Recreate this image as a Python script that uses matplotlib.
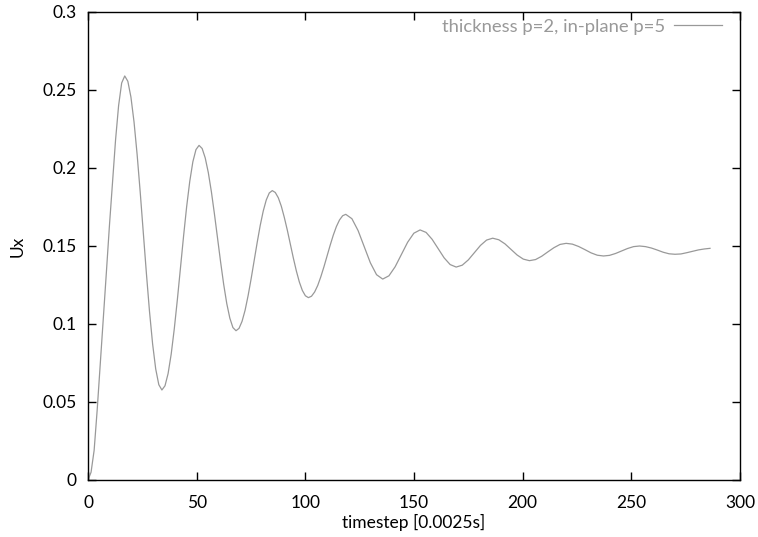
import matplotlib
matplotlib.use("Agg")
import matplotlib.pyplot as plt

# values (timestep, Ux)
timestep = [0, 1.41, 2.82, 4.23, 5.63, 7.04, 8.45, 9.86, 11.27, 12.68, 14.08, 15.49, 16.9,
            18.33, 19.75, 21.18, 22.6, 24.03, 25.45, 26.88, 28.3, 29.73, 31.15, 32.58, 34.0,
            35.43, 36.85, 38.28, 39.7, 41.13, 42.55, 43.98, 45.4, 46.83, 48.25, 49.68, 51.1,
            52.52, 53.93, 55.35, 56.77, 58.18, 59.6, 61.02, 62.43, 63.85, 65.27, 66.68, 68.1,
            69.49, 70.88, 72.28, 73.67, 75.06, 76.45, 77.84, 79.23, 80.63, 82.02, 83.41, 84.8,
            86.18, 87.57, 88.95, 90.33, 91.72, 93.1, 94.48, 95.87, 97.25, 98.63, 100.02, 101.4,
            102.83, 104.27, 105.7, 107.13, 108.57, 110.0, 111.43, 112.87, 114.3, 115.73, 117.17, 118.6,
            121.43, 124.27, 127.1, 129.93, 132.77, 135.6,
            138.47, 141.33, 144.2, 147.07, 149.93, 152.8,
            155.57, 158.33, 161.1, 163.87, 166.63, 169.4,
            172.2, 175.0, 177.8, 180.6, 183.4, 186.2,
            189.02, 191.83, 194.65, 197.47, 200.28, 203.1,
            205.92, 208.73, 211.55, 214.37, 217.18, 220.0,
            222.87, 225.73, 228.6, 231.47, 234.33, 237.2,
            239.97, 242.73, 245.5, 248.27, 251.03, 253.8,
            256.52, 259.23, 261.95, 264.67, 267.38, 270.1,
            272.8, 275.5, 278.2, 280.9, 283.6, 286.2]
ux = [0, 0.005, 0.019, 0.045, 0.074, 0.104, 0.133, 0.163, 0.191, 0.218, 0.240, 0.2545, 0.259,
      0.2556, 0.2455, 0.2295, 0.2087, 0.1844, 0.1583, 0.1323, 0.108, 0.0872, 0.0712, 0.0611, 0.0577,
      0.0604, 0.0682, 0.0807, 0.0969, 0.1158, 0.1361, 0.1564, 0.1753, 0.1915, 0.204, 0.2118, 0.2145,
      0.2125, 0.2065, 0.1971, 0.1848, 0.1705, 0.1551, 0.1397, 0.1254, 0.1131, 0.1037, 0.0977, 0.0957,
      0.0972, 0.1017, 0.1088, 0.1182, 0.129, 0.1406, 0.1522, 0.1631, 0.1724, 0.1795, 0.184, 0.1855,
      0.1843, 0.1809, 0.1755, 0.1683, 0.1601, 0.1512, 0.1423, 0.134, 0.1269, 0.1215, 0.1181, 0.1169,
      0.1178, 0.1205, 0.1247, 0.1303, 0.1367, 0.1436, 0.1505, 0.157, 0.1625, 0.1667, 0.1694, 0.1703,
      0.1675, 0.1599, 0.1495, 0.1392, 0.1316, 0.1288,
      0.1309, 0.1367, 0.1446, 0.1524, 0.1582, 0.1603,
      0.1587, 0.1543, 0.1484, 0.1424, 0.1381, 0.1365,
      0.1377, 0.1411, 0.1458, 0.1504, 0.1538, 0.155,
      0.154, 0.1514, 0.1478, 0.1442, 0.1416, 0.1406,
      0.1413, 0.1434, 0.1462, 0.1489, 0.151, 0.1517,
      0.1512, 0.1497, 0.1477, 0.1456, 0.1441, 0.1436,
      0.144, 0.1452, 0.1468, 0.1484, 0.1496, 0.150,
      0.1496, 0.1487, 0.1474, 0.146, 0.145, 0.1447,
      0.1449, 0.1457, 0.1466, 0.1475, 0.1481, 0.1485]

xticks = [0, 50, 100, 150, 200, 250, 300]
yticks = [0, 0.05, 0.1, 0.15, 0.2, 0.25, 0.3]
ytick_labels = ["0", "0.05", "0.1", "0.15", "0.2", "0.25", "0.3"]
label = "thickness p=2, in-plane p=5"

plt.rcParams['font.family'] = ['Lato', 'DejaVu Sans']

fig = plt.figure(figsize=(7.58, 5.37), dpi=100)
ax = fig.add_axes([88/758, 57/537, 652/758, 468/537])

ax.plot(timestep, ux, color='#999999', linewidth=0.9, label=label)

ax.set_xlim(0, 300)
ax.set_ylim(0, 0.3)
ax.set_xticks(xticks)
ax.set_yticks(yticks)
ax.set_yticklabels(ytick_labels)
ax.tick_params(direction='in', length=6, width=1, top=True, right=True,
               labelsize=12.5, colors='black', pad=8)
ax.tick_params(axis='x', pad=11)
for s in ax.spines.values():
    s.set_linewidth(1)

ax.set_xlabel("timestep [0.0025s]", fontsize=12.5, labelpad=2)
ax.set_ylabel("Ux", fontsize=12.5, labelpad=12)

leg = ax.legend(loc='upper right', bbox_to_anchor=(1 - 16/652, 1 - 5/468),
                frameon=False, markerfirst=False,
                fontsize=13.3, handlelength=2.6, handletextpad=0.5,
                borderaxespad=0, borderpad=0.1, labelcolor='#999999')

plt.savefig("out.png", dpi=100)
